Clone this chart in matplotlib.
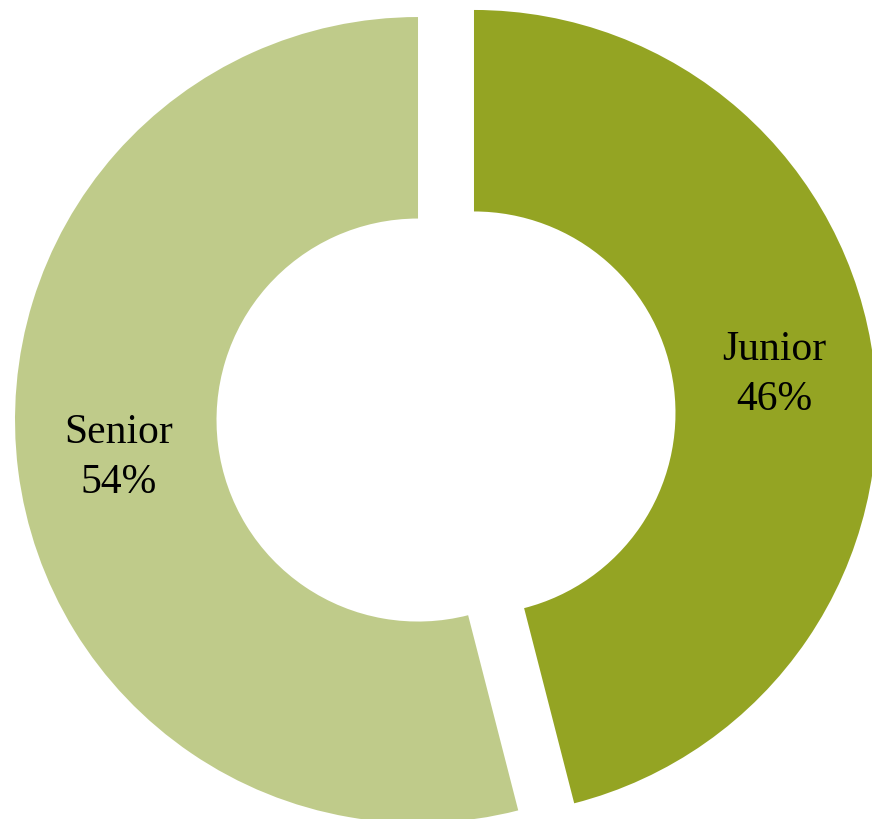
import matplotlib
matplotlib.use("Agg")
import matplotlib.pyplot as plt

categories = ["Junior", "Senior"]
values = [46, 54]
colors = ["#94A423", "#BFCB8A"]
explode = [0.07, 0.07]

fig = plt.figure(figsize=(8.72, 8.19), dpi=100)
ax = fig.add_axes([0, 0, 1, 1])

labels = [f"{c}\n{v}%" for c, v in zip(categories, values)]
wedges, texts = ax.pie(values, colors=colors, startangle=90, counterclock=False,
                       explode=explode, labels=labels, labeldistance=0.75,
                       wedgeprops=dict(width=0.5, linewidth=0),
                       textprops=dict(fontsize=30, family=["Liberation Serif", "DejaVu Serif"],
                                      color="black", linespacing=1.4))
for t in texts:
    t.set_horizontalalignment("center")
    t.set_verticalalignment("center")

ax.set_xlim(-446/403, (872-446)/403)
ax.set_ylim(-402.5/403, 416.5/403)
ax.set_aspect("auto")
ax.axis("off")
fig.savefig("out.png", dpi=100, facecolor="white")
